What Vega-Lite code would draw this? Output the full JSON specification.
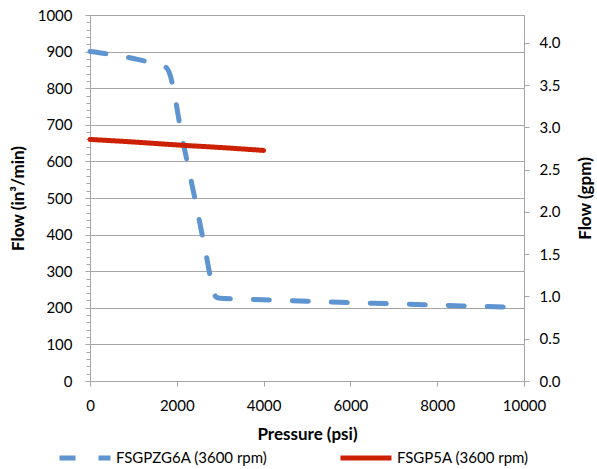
{
  "$schema": "https://vega.github.io/schema/vega-lite/v6.json",
  "width": 434,
  "height": 366,
  "autosize": {"type": "none"},
  "padding": {"left": 90, "top": 15, "right": 73, "bottom": 88},
  "background": "white",
  "config": {
    "font": "Lato",
    "view": {"stroke": "#a6a6a6", "strokeWidth": 1},
    "axis": {"domainColor": "#a6a6a6", "tickColor": "#a6a6a6", "labelColor": "#000000", "titleColor": "#000000", "labelFont": "Lato", "titleFont": "Lato", "labelFontSize": 15, "titleFontSize": 17, "titleFontWeight": "bold", "gridColor": "#a6a6a6", "gridWidth": 1}
  },
  "datasets": {
    "flow": [
      {"series": "FSGPZG6A (3600 rpm)", "psi": 0, "flow": 900},
      {"series": "FSGPZG6A (3600 rpm)", "psi": 500, "flow": 892},
      {"series": "FSGPZG6A (3600 rpm)", "psi": 1000, "flow": 881},
      {"series": "FSGPZG6A (3600 rpm)", "psi": 1500, "flow": 867},
      {"series": "FSGPZG6A (3600 rpm)", "psi": 1750, "flow": 857},
      {"series": "FSGPZG6A (3600 rpm)", "psi": 1850, "flow": 835},
      {"series": "FSGPZG6A (3600 rpm)", "psi": 1950, "flow": 780},
      {"series": "FSGPZG6A (3600 rpm)", "psi": 2100, "flow": 680},
      {"series": "FSGPZG6A (3600 rpm)", "psi": 2300, "flow": 565},
      {"series": "FSGPZG6A (3600 rpm)", "psi": 2500, "flow": 450},
      {"series": "FSGPZG6A (3600 rpm)", "psi": 2700, "flow": 330},
      {"series": "FSGPZG6A (3600 rpm)", "psi": 2800, "flow": 268},
      {"series": "FSGPZG6A (3600 rpm)", "psi": 2900, "flow": 230},
      {"series": "FSGPZG6A (3600 rpm)", "psi": 3000, "flow": 226},
      {"series": "FSGPZG6A (3600 rpm)", "psi": 4000, "flow": 222},
      {"series": "FSGPZG6A (3600 rpm)", "psi": 5000, "flow": 218},
      {"series": "FSGPZG6A (3600 rpm)", "psi": 6000, "flow": 214},
      {"series": "FSGPZG6A (3600 rpm)", "psi": 7000, "flow": 211},
      {"series": "FSGPZG6A (3600 rpm)", "psi": 8000, "flow": 207},
      {"series": "FSGPZG6A (3600 rpm)", "psi": 9000, "flow": 204},
      {"series": "FSGPZG6A (3600 rpm)", "psi": 9600, "flow": 202},
      {"series": "FSGP5A (3600 rpm)", "psi": 0, "flow": 660},
      {"series": "FSGP5A (3600 rpm)", "psi": 1000, "flow": 653},
      {"series": "FSGP5A (3600 rpm)", "psi": 2000, "flow": 645},
      {"series": "FSGP5A (3600 rpm)", "psi": 3000, "flow": 638},
      {"series": "FSGP5A (3600 rpm)", "psi": 4000, "flow": 630}
    ],
    "gpmAxis": [
      {"gpm": 0},
      {"gpm": 4.329}
    ]
  },
  "layer": [
    {
      "data": {"name": "flow"},
      "mark": {"type": "line", "strokeWidth": 5, "strokeCap": "round", "strokeJoin": "round", "interpolate": "monotone"},
      "encoding": {
        "x": {
          "field": "psi", "type": "quantitative",
          "scale": {"domain": [0, 10000], "nice": false},
          "axis": {"title": "Pressure (psi)", "values": [0, 2000, 4000, 6000, 8000, 10000], "grid": false, "tickSize": 5, "labelPadding": 12, "titlePadding": 13, "labelFlush": false, "format": "d"}
        },
        "y": {
          "field": "flow", "type": "quantitative",
          "scale": {"domain": [0, 1000], "nice": false},
          "axis": {
            "title": "Flow (in³/min)",
            "values": [0,20,40,60,80,100,120,140,160,180,200,220,240,260,280,300,320,340,360,380,400,420,440,460,480,500,520,540,560,580,600,620,640,660,680,700,720,740,760,780,800,820,840,860,880,900,920,940,960,980,1000],
            "labelExpr": "datum.value % 100 === 0 ? datum.label : ''",
            "labelOverlap": false,
            "format": "d",
            "grid": true,
            "gridOpacity": {"condition": {"test": "datum.value % 100 === 0", "value": 1}, "value": 0},
            "tickSize": {"condition": {"test": "datum.value % 100 === 0", "value": 5}, "value": 4},
            "labelPadding": 13,
            "titlePadding": 10,
            "labelFlush": false
          }
        },
        "color": {
          "field": "series", "type": "nominal",
          "scale": {"domain": ["FSGPZG6A (3600 rpm)", "FSGP5A (3600 rpm)"], "range": ["#5E94CF", "#CC2000"]},
          "legend": {
            "title": null, "orient": "none", "direction": "horizontal",
            "legendX": -33, "legendY": 415,
            "symbolType": "stroke", "symbolSize": 2600, "symbolStrokeWidth": 5,
            "labelFont": "Lato", "labelFontSize": 15, "labelColor": "#000000", "labelOffset": 3,
            "columnPadding": 62, "labelLimit": 300
          }
        },
        "strokeDash": {
          "field": "series", "type": "nominal",
          "scale": {"domain": ["FSGPZG6A (3600 rpm)", "FSGP5A (3600 rpm)"], "range": [[16, 23], [1, 0]]},
          "legend": {
            "title": null, "orient": "none", "direction": "horizontal",
            "legendX": -33, "legendY": 415,
            "symbolType": "stroke", "symbolSize": 2600, "symbolStrokeWidth": 5,
            "labelFont": "Lato", "labelFontSize": 15, "labelColor": "#000000", "labelOffset": 3,
            "columnPadding": 62, "labelLimit": 300
          }
        }
      }
    },
    {
      "data": {"name": "gpmAxis"},
      "mark": {"type": "point", "opacity": 0},
      "encoding": {
        "y": {
          "field": "gpm", "type": "quantitative",
          "scale": {"domain": [0, 4.329], "nice": false},
          "axis": {"orient": "right", "title": "Flow (gpm)", "titleAngle": 270, "values": [0, 0.5, 1, 1.5, 2, 2.5, 3, 3.5, 4], "format": ".1f", "grid": false, "tickSize": 5, "labelPadding": 10, "titlePadding": 35, "labelFlush": false}
        }
      }
    }
  ],
  "resolve": {"scale": {"y": "independent"}}
}
